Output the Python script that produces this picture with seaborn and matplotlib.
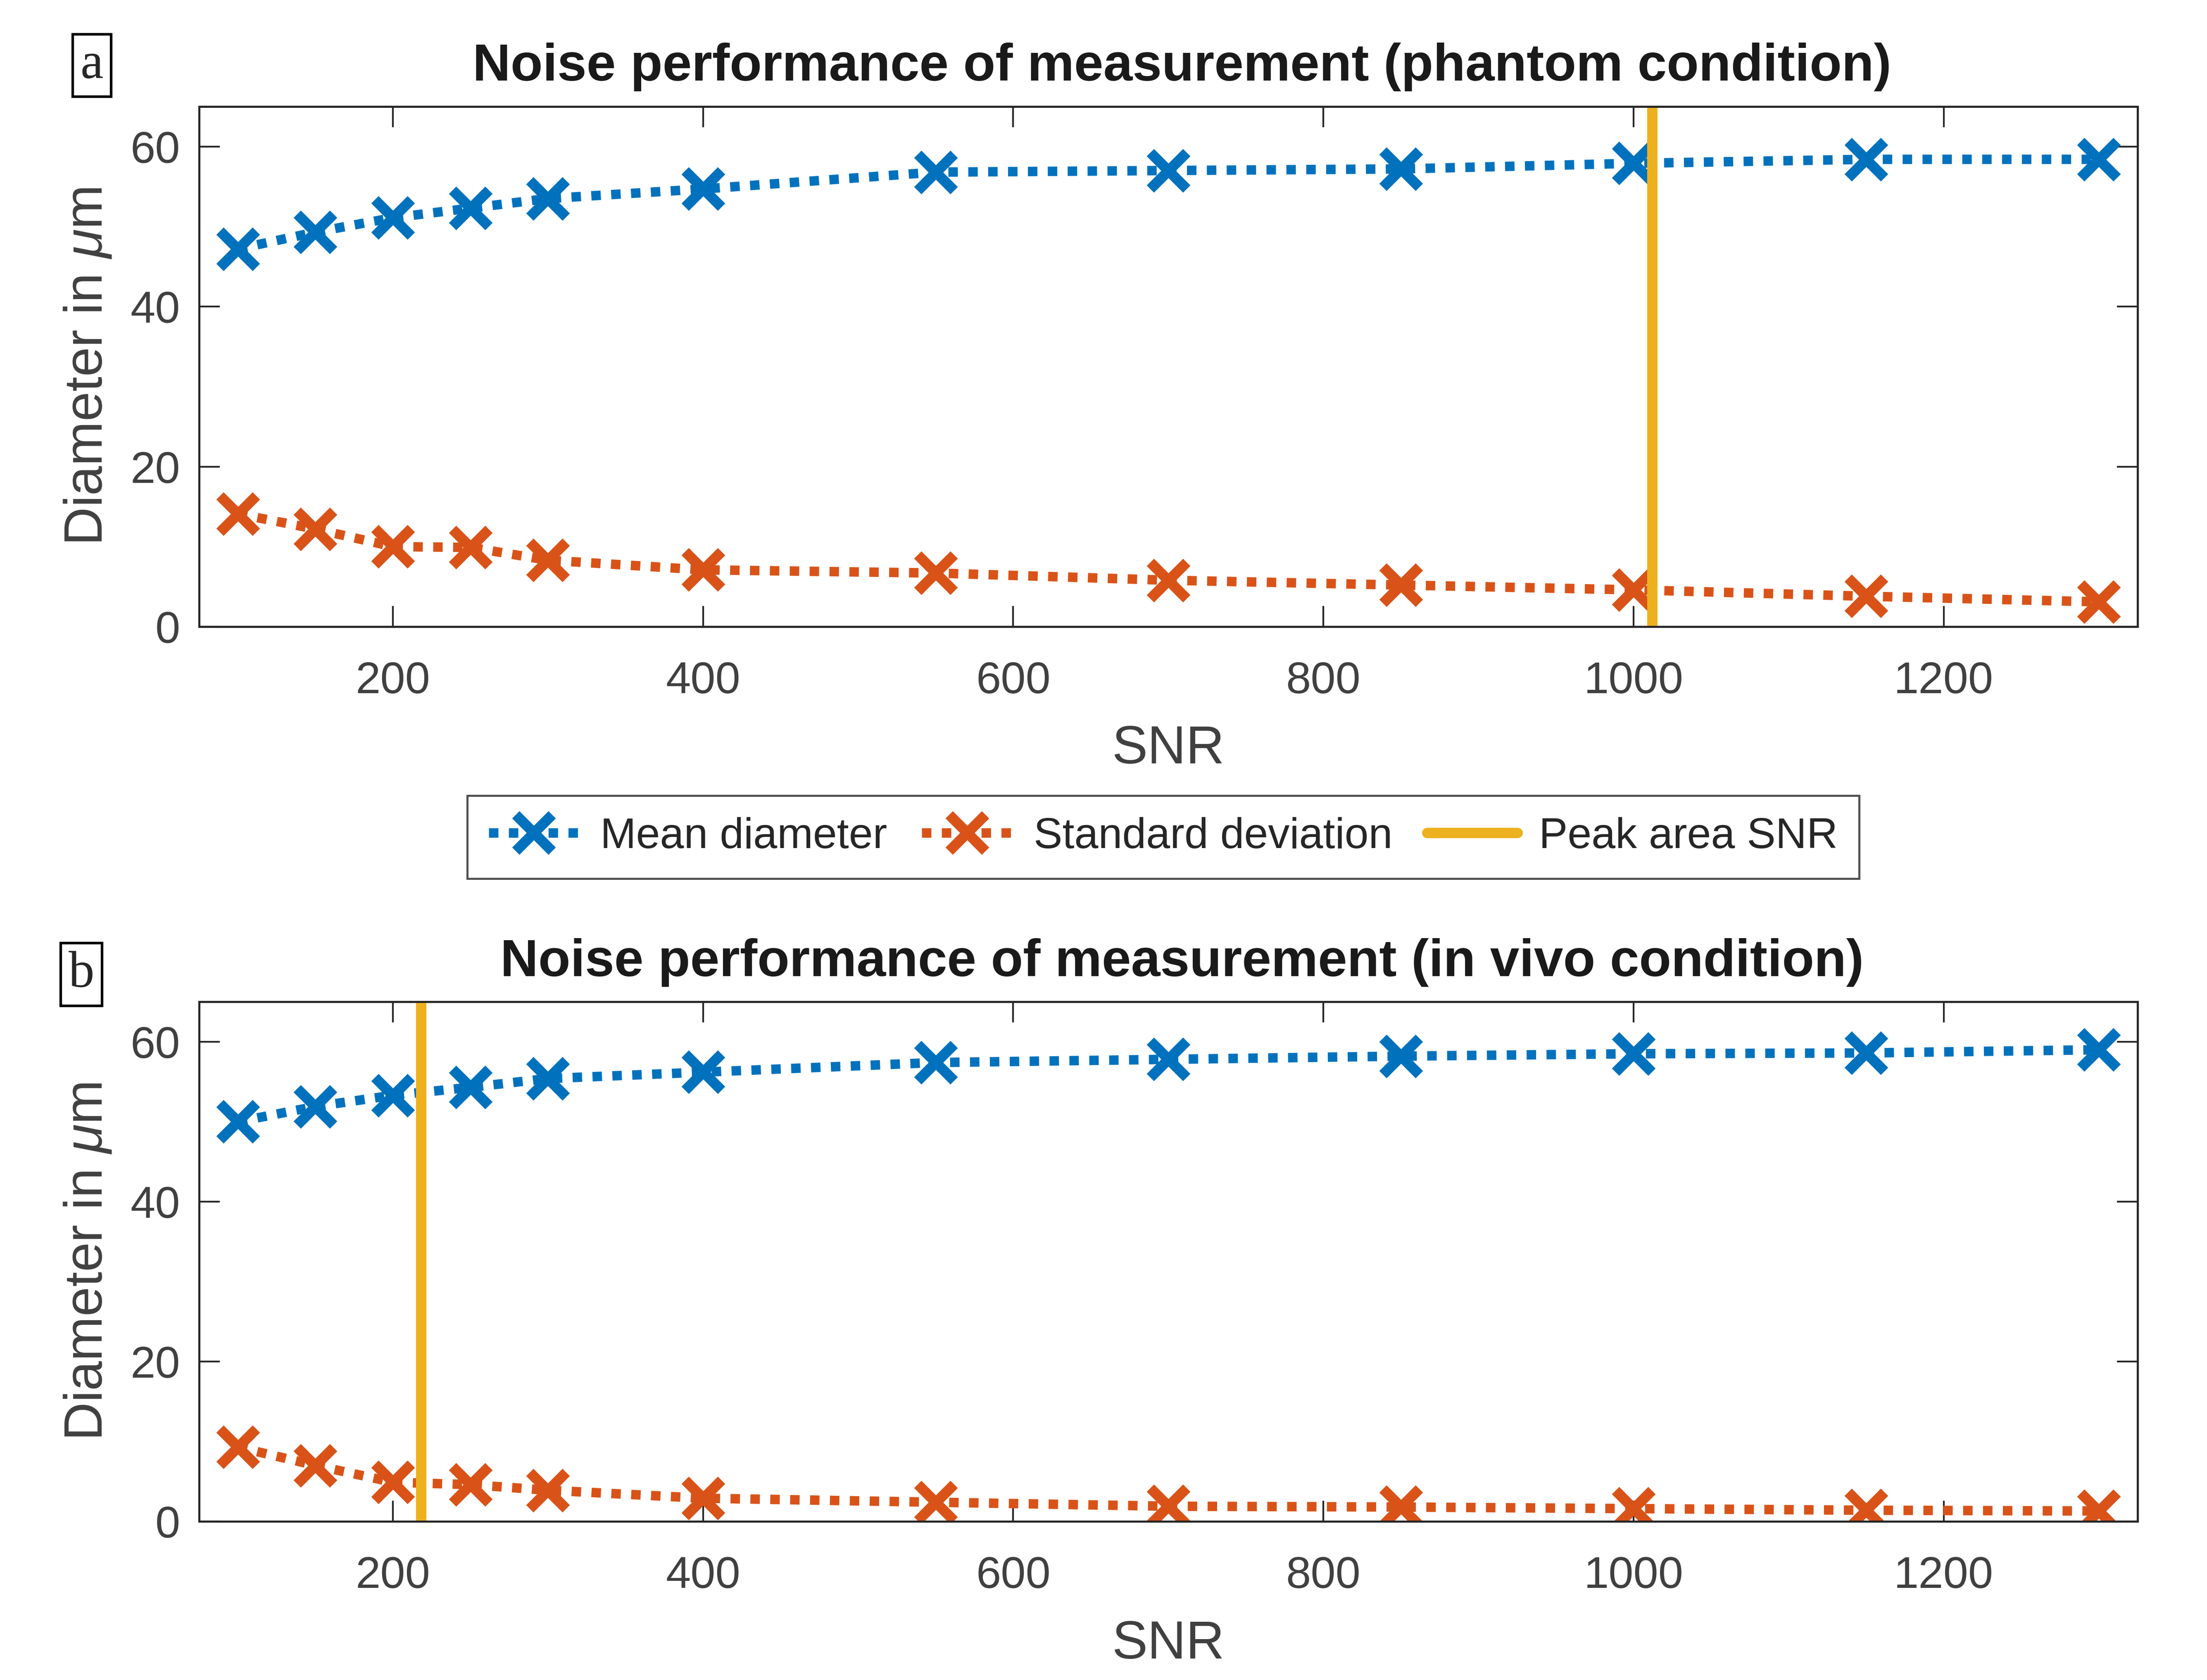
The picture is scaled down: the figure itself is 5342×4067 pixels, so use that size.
import seaborn as sns
import matplotlib.pyplot as plt
import pandas as pd

snr = [100, 150, 200, 250, 300, 400, 550, 700, 850, 1000, 1150, 1300]

phantom_mean = [47.2, 49.3, 51.1, 52.3, 53.5, 54.7, 56.8, 57.0, 57.2, 57.9, 58.4, 58.4]
phantom_std = [14.1, 12.2, 10.0, 9.9, 8.3, 7.1, 6.7, 5.8, 5.2, 4.6, 3.8, 3.1]
phantom_peak = 1012

vivo_mean = [50.0, 51.9, 53.3, 54.3, 55.4, 56.2, 57.4, 57.8, 58.2, 58.5, 58.6, 59.0]
vivo_std = [9.3, 7.0, 4.9, 4.6, 3.9, 2.9, 2.4, 1.9, 1.8, 1.6, 1.4, 1.3]
vivo_peak = 218

titles = ["Noise performance of measurement (phantom condition)",
          "Noise performance of measurement (in vivo condition)"]
panel_tags = ["a", "b"]

blue = "#0072BD"
orange = "#D95319"
yellow = "#EDB120"

sns.set_style("ticks")
plt.rcParams['font.family'] = ['Liberation Sans', 'DejaVu Sans']
plt.rcParams['mathtext.fontset'] = 'custom'
plt.rcParams['mathtext.it'] = 'Liberation Sans:italic'
plt.rcParams['mathtext.rm'] = 'Liberation Sans'

fig = plt.figure(figsize=(5342 / 300, 4067 / 300), dpi=300)
ax_top = fig.add_axes([0.0902, 0.6270, 0.8783, 0.3096])
ax_bot = fig.add_axes([0.0902, 0.0944, 0.8783, 0.3093])

dotted = (0, (1, 1.1))
line_kw = dict(marker='x', markersize=21, markeredgewidth=6, linewidth=5.5, linestyle=dotted)

panels = [
    (ax_top, phantom_mean, phantom_std, phantom_peak),
    (ax_bot, vivo_mean, vivo_std, vivo_peak),
]

for i, (ax, mean, std, peak) in enumerate(panels):
    df = pd.DataFrame({"SNR": snr, "mean": mean, "std": std})
    sns.lineplot(ax=ax, data=df, x="SNR", y="mean", color=blue, markeredgecolor=blue,
                 label="Mean diameter", legend=False, **line_kw)
    sns.lineplot(ax=ax, data=df, x="SNR", y="std", color=orange, markeredgecolor=orange,
                 label="Standard deviation", legend=False, **line_kw)
    ax.axvline(peak, color=yellow, linewidth=6, label="Peak area SNR")

    ax.set_xlim(75, 1325)
    ax.set_ylim(0, 65)
    ax.set_xticks([200, 400, 600, 800, 1000, 1200])
    ax.set_yticks([0, 20, 40, 60])
    ax.tick_params(direction='in', length=12, width=1, top=True, right=True,
                   labelsize=26, color='#262626', labelcolor='#404040')
    ax.tick_params(axis='x', pad=20)
    ax.tick_params(axis='y', pad=11)
    for s in ax.spines.values():
        s.set_color('#262626')
        s.set_linewidth(1.2)
    ax.set_xlabel("SNR", fontsize=31, color='#404040', labelpad=13)
    ax.set_ylabel(r"Diameter in $\mu$m", fontsize=31, color='#404040', labelpad=10)
    ax.set_title(titles[i], fontsize=30.5, fontweight='bold', color='#1a1a1a', pad=15, x=0.507)

fig.text(0.0416, 0.961, panel_tags[0], fontsize=30, family='Liberation Serif', ha='center', va='center',
         bbox=dict(boxstyle='square,pad=0.15', fc='white', ec='black', lw=1.5))
fig.text(0.0369, 0.420, panel_tags[1], fontsize=30, family='Liberation Serif', ha='center', va='center',
         bbox=dict(boxstyle='square,pad=0.15', fc='white', ec='black', lw=1.5))

handles, labels = ax_top.get_legend_handles_labels()
leg = fig.legend(handles, labels, loc='center', bbox_to_anchor=(0.527, 0.5018), ncol=3,
                 fontsize=25, frameon=True, fancybox=False, edgecolor='#262626',
                 handlelength=2.1, columnspacing=0.8, handletextpad=0.5, borderpad=0.5)
leg.get_frame().set_linewidth(1.2)

fig.savefig("out.png", dpi=300)
